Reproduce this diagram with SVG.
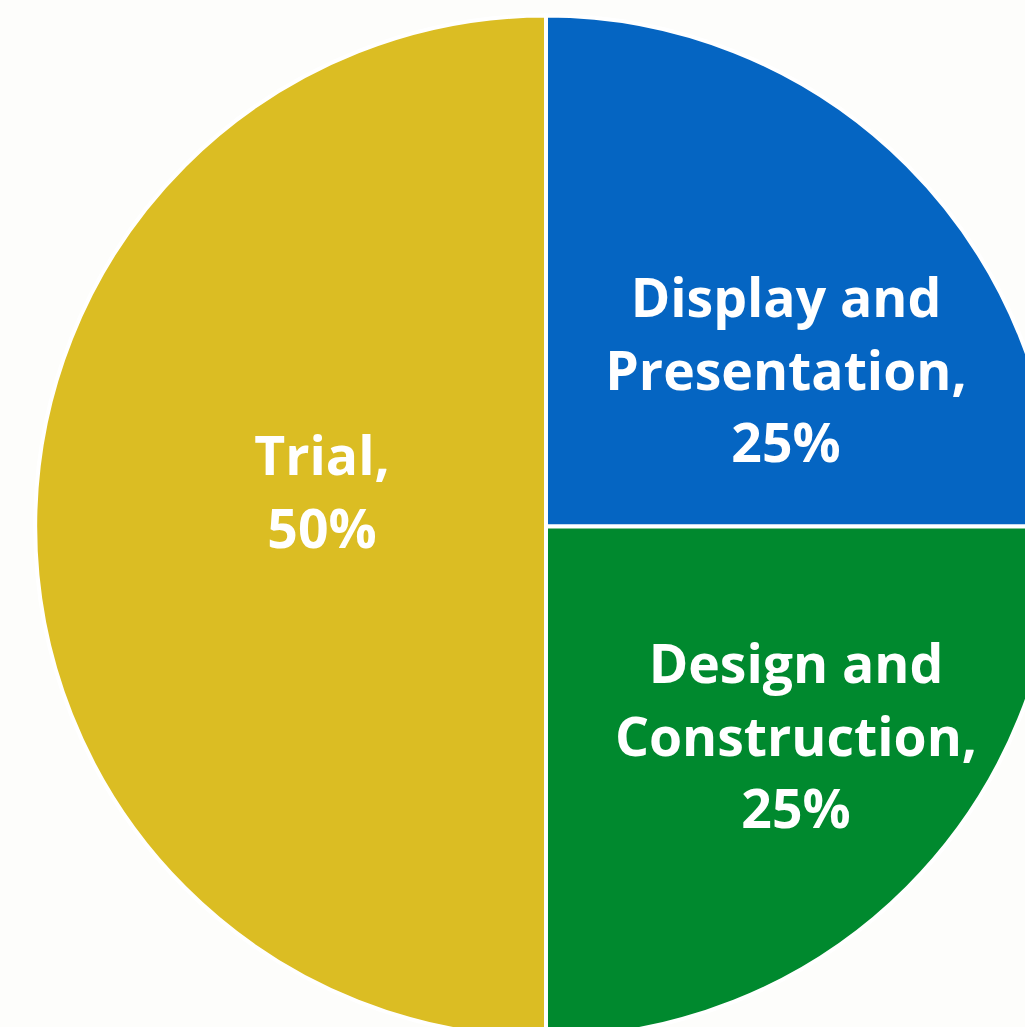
<svg xmlns="http://www.w3.org/2000/svg" width="1025" height="1027" viewBox="0 0 1025 1027">
<style>
.lbl{font-family:"Open Sans","Noto Sans",sans-serif;font-weight:700;font-size:53.5px;fill:#ffffff;text-anchor:middle}
.sl{stroke:#ffffff;stroke-width:4}
</style>
<rect width="1025" height="1027" fill="#fdfdfb"/>
<g id="trial">
<path class="sl" d="M546,526.5 L546,15.5 A511,511 0 0 0 546,1037.5 Z" fill="#dbbd23"/>
<text class="lbl" x="322" y="475">Trial,</text>
<text class="lbl" x="322" y="548">50%</text>
</g>
<g id="display">
<path class="sl" d="M546,526.5 L546,15.5 A511,511 0 0 1 1057,526.5 Z" fill="#0565c2"/>
<text class="lbl" x="786" y="317">Display and</text>
<text class="lbl" x="786" y="390">Presentation,</text>
<text class="lbl" x="786" y="462">25%</text>
</g>
<g id="design">
<path class="sl" d="M546,526.5 L1057,526.5 A511,511 0 0 1 546,1037.5 Z" fill="#00892e"/>
<text class="lbl" x="796" y="683">Design and</text>
<text class="lbl" x="796" y="756">Construction,</text>
<text class="lbl" x="796" y="828">25%</text>
</g>
<g id="connectors"/>
</svg>
